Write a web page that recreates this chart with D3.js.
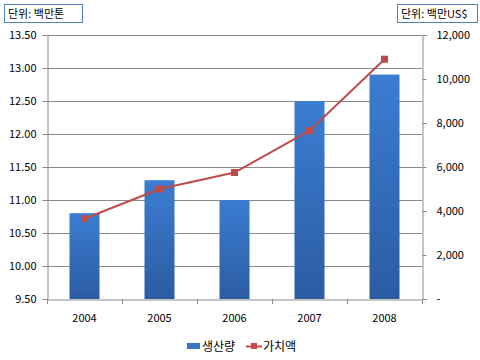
<!DOCTYPE html>
<html><head><meta charset="utf-8">
<script src="https://cdn.jsdelivr.net/npm/d3@7"></script>
<style>body{margin:0;background:#fff}svg{display:block}text{font-family:"Noto Sans CJK KR","Noto Sans",sans-serif;}</style>
</head><body>
<script>
const years = ["2004","2005","2006","2007","2008"];
const production = [10.8, 11.3, 11.0, 12.5, 12.9];
const value = [3650, 5000, 5750, 7650, 10900];
const leftTicks = [9.5,10,10.5,11,11.5,12,12.5,13,13.5];
const rightTicks = [0,2000,4000,6000,8000,10000,12000];
const seriesNames = ["생산량","가치액"];
const unitLeft = "단위: 백만톤", unitRight = "단위: 백만US$";

const W=480,H=360, L=47, R=422, T=35, B=299;
const svg=d3.select("body").append("svg").attr("width",W).attr("height",H);
const defs=svg.append("defs");
const g=defs.append("linearGradient").attr("id","bg").attr("x1",0).attr("y1",0).attr("x2",0).attr("y2",1);
g.append("stop").attr("offset","0%").attr("stop-color","#3b7dd2");
g.append("stop").attr("offset","100%").attr("stop-color","#2b5ca2");

const x=d3.scaleBand().domain(years).range([L,R]);
const yL=d3.scaleLinear().domain([9.5,13.5]).range([B,T]);
const yR=d3.scaleLinear().domain([0,12000]).range([B,T]);

// gridlines
svg.append("g").selectAll("line").data(leftTicks.slice(1)).join("line")
 .attr("x1",L).attr("x2",R).attr("y1",d=>yL(d)+0.5).attr("y2",d=>yL(d)+0.5)
 .attr("stroke","#8a8a8a").attr("stroke-width",1);

// bars
const bw=x.bandwidth()*0.4;
svg.append("g").selectAll("rect").data(production).join("rect")
 .attr("x",(d,i)=>x(years[i])+x.bandwidth()/2-bw/2).attr("width",bw)
 .attr("y",d=>yL(d)).attr("height",d=>B-yL(d)).attr("fill","url(#bg)");

// axes
const fmtL=d3.format(".2f");
const axL=svg.append("g").attr("transform",`translate(${L+0.5},0)`)
 .call(d3.axisLeft(yL).tickValues(leftTicks).tickFormat(fmtL).tickSize(5).tickPadding(6));
const axR=svg.append("g").attr("transform",`translate(${R+0.5},0)`)
 .call(d3.axisRight(yR).tickValues(rightTicks).tickFormat(d=>d===0?"-":d3.format(",")(d)).tickSize(4).tickPadding(10));
const axB=svg.append("g").attr("transform",`translate(0,${B+0.5})`)
 .call(d3.axisBottom(x).tickSize(0).tickPadding(15));
[axL,axR,axB].forEach(a=>{a.select(".domain").attr("stroke","#8a8a8a");a.selectAll(".tick line").attr("stroke","#8a8a8a");
 a.selectAll("text").attr("font-size",11).attr("fill","#000");});
// bottom ticks at band boundaries
svg.append("g").selectAll("line").data(years.concat(["end"])).join("line")
 .attr("x1",(d,i)=>L+i*x.step()+0.5).attr("x2",(d,i)=>L+i*x.step()+0.5)
 .attr("y1",B).attr("y2",B+5).attr("stroke","#8a8a8a");
axB.selectAll(".tick text").attr("dy","0.71em");

// line
const line=d3.line().x((d,i)=>x(years[i])+x.bandwidth()/2).y(d=>yR(d));
svg.append("path").datum(value).attr("d",line).attr("fill","none").attr("stroke","#be4b48").attr("stroke-width",2);
svg.append("g").selectAll("rect").data(value).join("rect")
 .attr("x",(d,i)=>x(years[i])+x.bandwidth()/2-3.5).attr("y",d=>yR(d)-3.5)
 .attr("width",7).attr("height",7).attr("fill","#be4b48");

// unit boxes
function box(x0,w,txt){
 svg.append("rect").attr("x",x0+0.5).attr("y",4.5).attr("width",w).attr("height",18).attr("fill","#fff").attr("stroke","#4f81bd");
 svg.append("text").attr("x",x0+4).attr("y",18).attr("font-size",11).text(txt);
}
box(4,78,unitLeft); box(397,80,unitRight);

// legend
const lg=svg.append("g");
lg.append("rect").attr("x",187).attr("y",343).attr("width",13).attr("height",6).attr("fill","#3a73c4");
lg.append("text").attr("x",202).attr("y",351).attr("font-size",12).text(seriesNames[0]);
lg.append("line").attr("x1",246).attr("x2",262).attr("y1",346.5).attr("y2",346.5).attr("stroke","#be4b48").attr("stroke-width",2);
lg.append("rect").attr("x",251).attr("y",343).attr("width",6).attr("height",6).attr("fill","#be4b48");
lg.append("text").attr("x",263).attr("y",351).attr("font-size",12).text(seriesNames[1]);
</script>
</body></html>
